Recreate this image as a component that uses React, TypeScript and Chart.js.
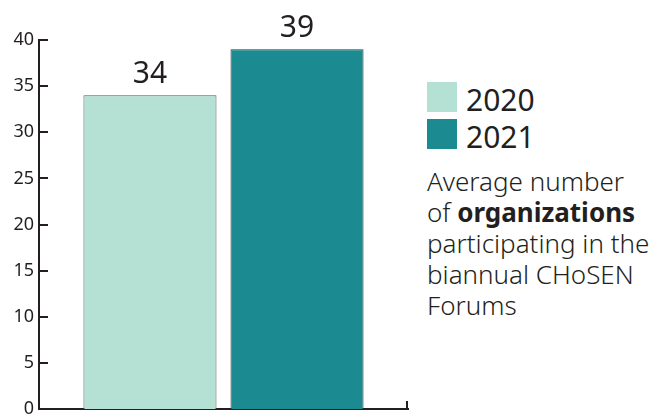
import React, { useEffect, useRef } from "react";
import { Chart, registerables } from "chart.js";

Chart.register(...registerables);

const categories = ["Average number of organizations"];
const seriesNames = ["2020", "2021"];
const values2020 = [34];
const values2021 = [39];
const yTicks = [0, 5, 10, 15, 20, 25, 30, 35, 40];
const descriptionLines = [
  ["Average number", ""],
  ["of ", "organizations"],
  ["participating in the", ""],
  ["biannual CHoSEN", ""],
  ["Forums", ""],
];

const INK = "#231f20";
const COLORS = ["#b5e0d4", "#1b8a91"];
const FONT = "'Noto Sans', sans-serif";

const decorPlugin = {
  id: "decor",
  afterDraw(chart: any) {
    const ctx = chart.ctx;
    const y = chart.scales.y;
    const x = chart.scales.x;
    const area = chart.chartArea;
    ctx.save();
    ctx.strokeStyle = INK;
    ctx.lineWidth = 2;
    // inward tick marks on y axis
    y.ticks.forEach((t: any) => {
      const py = Math.round(y.getPixelForValue(t.value));
      ctx.beginPath();
      ctx.moveTo(area.left - 1, py);
      ctx.lineTo(area.left + 9, py);
      ctx.stroke();
    });
    // end tick on x axis
    ctx.beginPath();
    ctx.moveTo(x.right - 1, area.bottom + 1);
    ctx.lineTo(x.right - 1, area.bottom - 8);
    ctx.stroke();
    // value labels
    ctx.fillStyle = INK;
    ctx.font = `30px ${FONT}`;
    ctx.textAlign = "center";
    ctx.textBaseline = "alphabetic";
    chart.data.datasets.forEach((ds: any, i: number) => {
      const meta = chart.getDatasetMeta(i);
      meta.data.forEach((bar: any, j: number) => {
        ctx.fillText(String(ds.data[j]), bar.x, bar.y - 12);
      });
    });
    ctx.restore();
  },
};

export default function App() {
  const ref = useRef<HTMLCanvasElement>(null);
  useEffect(() => {
    if (!ref.current) return;
    const chart = new Chart(ref.current, {
      type: "bar",
      data: {
        labels: categories,
        datasets: [
          {
            label: seriesNames[0],
            data: values2020,
            backgroundColor: COLORS[0],
            borderColor: "#5a5a5a",
            borderWidth: 1,
            categoryPercentage: 0.797,
            barPercentage: 0.905,
          },
          {
            label: seriesNames[1],
            data: values2021,
            backgroundColor: COLORS[1],
            borderColor: "#3a3a3a",
            borderWidth: 1,
            categoryPercentage: 0.797,
            barPercentage: 0.905,
          },
        ],
      },
      options: {
        animation: false,
        responsive: false,
        maintainAspectRatio: false,
        layout: { padding: { top: 40, right: 12, bottom: 8, left: 0 } },
        plugins: {
          legend: { display: false },
          tooltip: { enabled: false },
        },
        scales: {
          x: {
            grid: { display: false, drawTicks: false },
            border: { display: true, color: INK, width: 2 },
            ticks: { display: false },
            afterFit: (s: any) => {
              s.height = 0;
              s.paddingLeft = 0;
              s.paddingRight = 0;
            },
          },
          y: {
            min: 0,
            max: 40,
            afterBuildTicks: (s: any) => {
              s.ticks = yTicks.map((v) => ({ value: v }));
            },
            grid: { display: false, drawTicks: false },
            border: { display: true, color: INK, width: 2 },
            ticks: {
              color: INK,
              padding: 5,
              font: { family: FONT, size: 18 },
            },
            afterFit: (s: any) => {
              s.width = 39;
              s.paddingTop = 0;
              s.paddingBottom = 0;
            },
          },
        },
      },
      plugins: [decorPlugin],
    });
    return () => chart.destroy();
  }, []);

  const legendText: React.CSSProperties = {
    position: "absolute",
    left: 466,
    fontFamily: FONT,
    fontSize: 30,
    lineHeight: "30px",
    color: INK,
    whiteSpace: "nowrap",
  };

  return (
    <div
      style={{
        position: "absolute",
        left: 0,
        top: 0,
        width: 657,
        height: 417,
        background: "#fff",
        overflow: "hidden",
      }}
    >
      <canvas
        ref={ref}
        width={420}
        height={417}
        style={{ position: "absolute", left: 0, top: 0, width: 420, height: 417 }}
      />
      {seriesNames.map((name, i) => (
        <React.Fragment key={name}>
          <div
            style={{
              position: "absolute",
              left: 427,
              top: 82 + i * 37,
              width: 30,
              height: 30,
              background: COLORS[i],
            }}
          />
          <div style={{ ...legendText, top: 85 + i * 37 }}>{name}</div>
        </React.Fragment>
      ))}
      <div
        style={{
          position: "absolute",
          left: 427,
          top: 166,
          fontFamily: FONT,
          fontSize: 26,
          fontWeight: 300,
          lineHeight: "31px",
          color: INK,
          whiteSpace: "nowrap",
        }}
      >
        {descriptionLines.map(([a, b], i) => (
          <div key={i}>
            {a}
            {b ? <b style={{ fontWeight: 700 }}>{b}</b> : null}
          </div>
        ))}
      </div>
    </div>
  );
}
